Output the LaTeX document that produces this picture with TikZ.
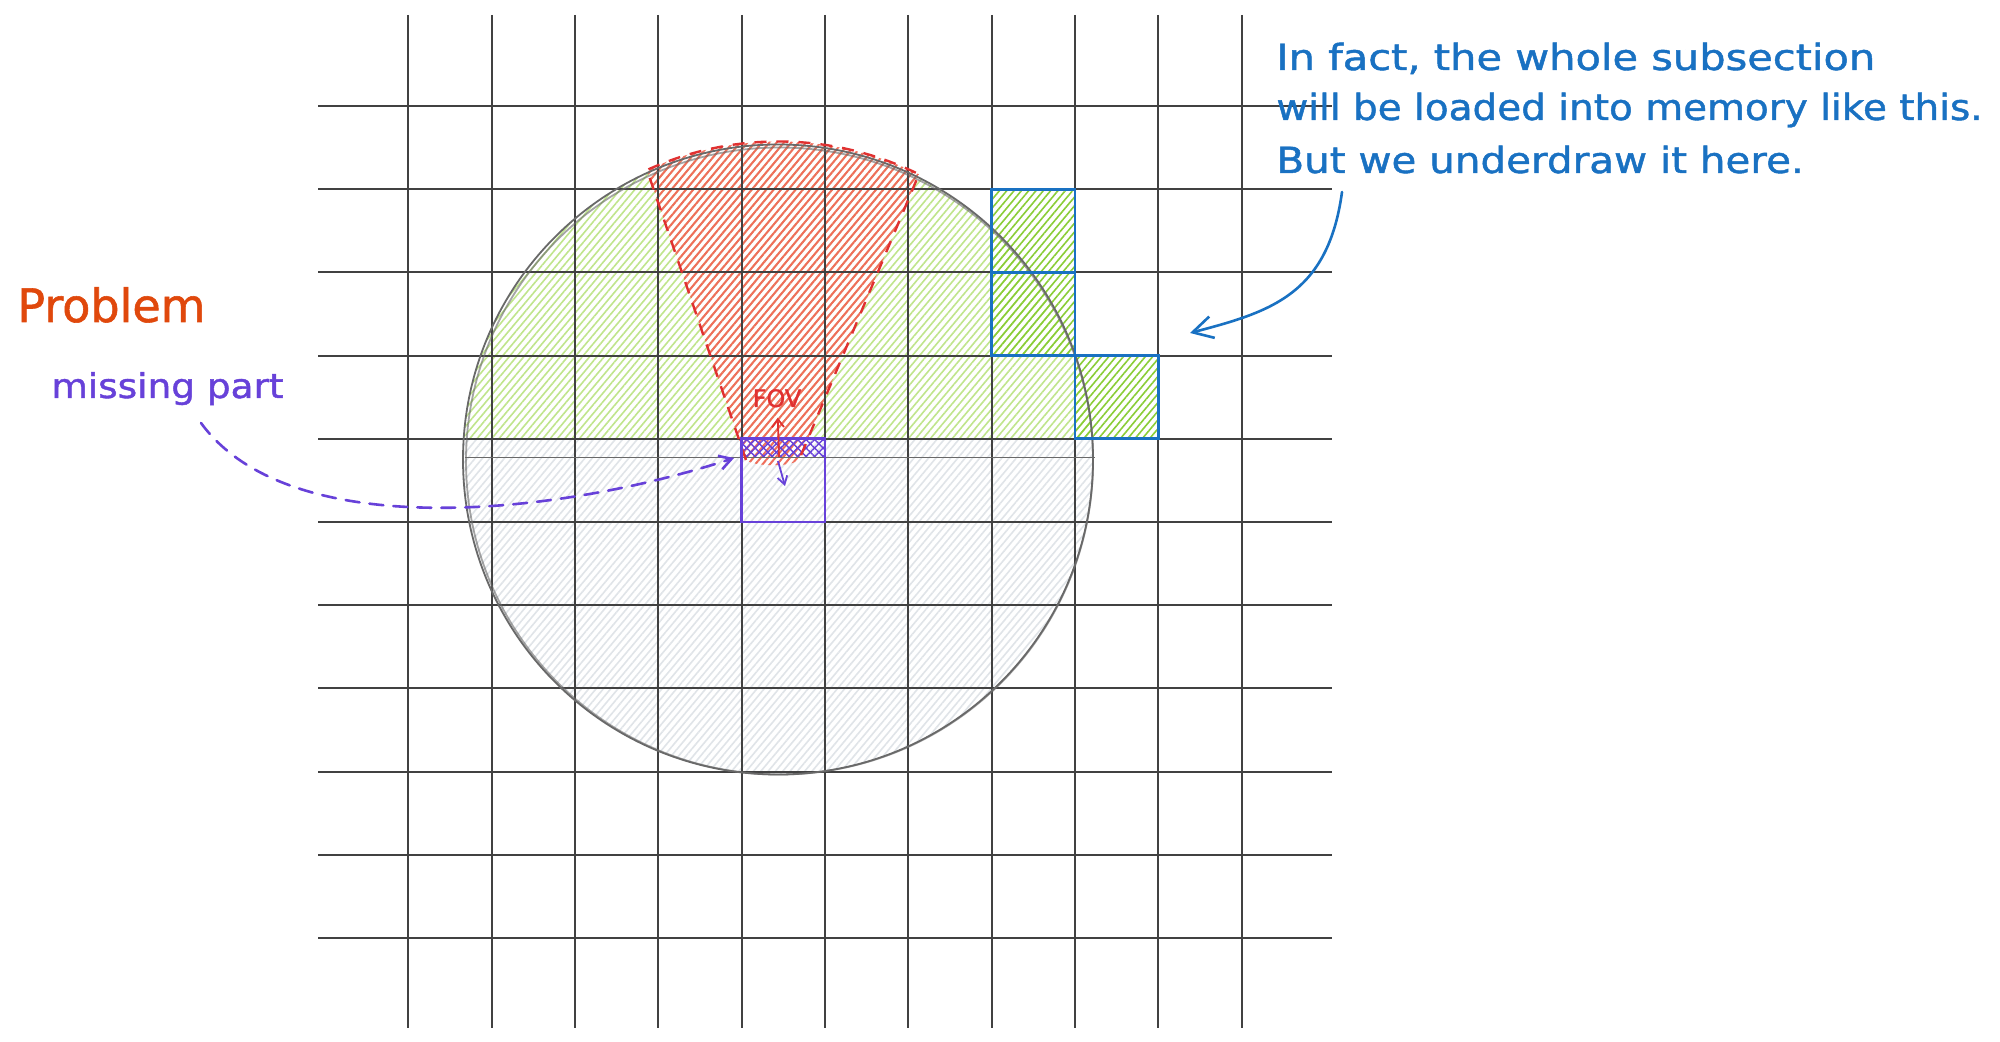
\documentclass[tikz,border=0pt]{standalone}
\usepackage{fontspec}
\setmainfont{DejaVu Sans}
\newfontfamily\handfont[FakeBold=1.2]{DejaVu Sans}
\usetikzlibrary{patterns.meta,arrows.meta}
\definecolor{gridc}{RGB}{65,65,65}
\definecolor{circc}{RGB}{105,105,105}
\definecolor{greenA}{RGB}{192,229,140}
\definecolor{greenB}{RGB}{138,205,55}
\definecolor{grayh}{RGB}{224,228,232}
\definecolor{redh}{RGB}{240,110,90}
\definecolor{redl}{RGB}{224,49,49}
\definecolor{bluel}{RGB}{25,113,194}
\definecolor{purp}{RGB}{103,65,217}
\definecolor{orng}{RGB}{224,72,12}
\begin{document}
\begin{tikzpicture}[x=0.5pt,y=-0.5pt,
  gridline/.style={draw=gridc,line width=1pt},
  circline/.style={draw=circc,line width=0.9pt},
  hatchA/.style={pattern={Lines[angle=50,distance=2.8pt,line width=0.8pt]}},
  hatchR/.style={pattern={Lines[angle=50,distance=2.8pt,line width=1pt]}},
  hatchB/.style={pattern={Lines[angle=-45,distance=3pt,line width=0.7pt]}},
  hatchC/.style={pattern={Lines[angle=45,distance=3pt,line width=0.7pt]}},
  bluebox/.style={draw=bluel,line width=1.4pt},
  fovline/.style={draw=redl,line width=1.2pt,dash pattern=on 6pt off 5pt},
  txt/.style={inner sep=0pt,anchor=base west},
  bluetxt/.style={txt,text=bluel,font=\handfont\fontsize{18}{22}\selectfont}]
\useasboundingbox[fill=white] (0,0) rectangle (2000,1042);

% circle hatches
\begin{scope}
  \clip (778,459.5) circle[radius=315];
  \fill[hatchA,pattern color=greenA] (400,100) rectangle (1200,438.8);
  \fill[hatchA,pattern color=grayh] (400,438.8) rectangle (1200,800);
\end{scope}

% green hatched boxes
\fill[hatchA,pattern color=greenB] (991.6,189.2) rectangle (1075,272.4);
\fill[hatchA,pattern color=greenB] (991.6,272.4) rectangle (1075,355.6);
\fill[hatchA,pattern color=greenB] (1075,355.6) rectangle (1158.3,438.8);

% FOV fill
\fill[hatchR,pattern color=redh] (746,460) -- (647,170)
  arc[start angle=-114.5,end angle=-63.7,radius=317] -- (799,460)
  .. controls (790,467) and (755,467) .. cycle;

% purple cross hatch strip
\fill[hatchB,pattern color=purp] (741.6,438.8) rectangle (825,458);
\fill[hatchC,pattern color=purp] (741.6,438.8) rectangle (825,458);

% grid
\foreach \k in {0,...,10} {\draw[gridline] ({408.3+83.33*\k},15) -- ({408.3+83.33*\k},1028);}
\foreach \j in {0,...,10} {\draw[gridline] (318,{106+83.2*\j}) -- (1332,{106+83.2*\j});}

% circle and diameter
\draw[circline] (778,459.5) circle[radius=315];
\draw[circline,opacity=0.6] (779.5,461) circle[radius=313.5];
\draw[circline] (465,457.5) -- (1095,457.5);

% FOV outline
\draw[fovline] (746,460) -- (647,170)
  arc[start angle=-114.5,end angle=-63.7,radius=317] -- (799,460);

% boxes
\draw[bluebox] (991.6,189.2) rectangle (1075,272.4);
\draw[bluebox] (991.6,272.4) rectangle (1075,355.6);
\draw[bluebox] (1075,355.6) rectangle (1158.3,438.8);
\draw[draw=purp,line width=1.3pt] (741.6,438.8) rectangle (825,522);

% texts
\node[txt,text=orng,font=\handfont\fontsize{23}{28}\selectfont] (problem) at (17,322) {Problem};
\node[txt,text=purp,font=\handfont\fontsize{17}{20}\selectfont] (missing) at (51,398) {\scalebox{1.1}[1]{missing part}};
\node[bluetxt] (t1) at (1276,70) {\scalebox{1.154}[1]{In fact, the whole subsection}};
\node[bluetxt] (t2) at (1276,120) {\scalebox{1.081}[1]{will be loaded into memory like this.}};
\node[bluetxt] (t3) at (1276,173) {\scalebox{1.123}[1]{But we underdraw it here.}};
\node[inner sep=0pt,anchor=base,text=redl,font=\handfont\fontsize{12}{14}\selectfont] (fov) at (777,407) {FOV};

% connectors
\coordinate (mpS) at (201,423);
\coordinate (mpE) at (734,458);
\draw[purp,line width=1.3pt,line cap=round,dash pattern=on 7pt off 5pt,
  -{Straight Barb[length=6pt,width=7pt]}] (mpS) .. controls (290,545) and (560,515) .. (mpE);
\coordinate (bS) at (1342,192);
\coordinate (bE) at (1190,333);
\draw[bluel,line width=1.3pt,line cap=round,
  -{Straight Barb[length=10pt,width=11pt]}] (bS) .. controls (1328,295) and (1270,312) .. (bE);
\coordinate (pc1) at (779,457);
\coordinate (fovTip) at (777.7,417.7);
\coordinate (pc2) at (778,461);
\coordinate (downTip) at (785,486);
\draw[redl,line width=0.9pt,-{Straight Barb[length=4pt,width=6pt]}] (pc1) -- (fovTip);
\draw[purp,line width=0.9pt,-{Straight Barb[length=4pt,width=5pt]}] (pc2) -- (downTip);
\end{tikzpicture}
\end{document}
